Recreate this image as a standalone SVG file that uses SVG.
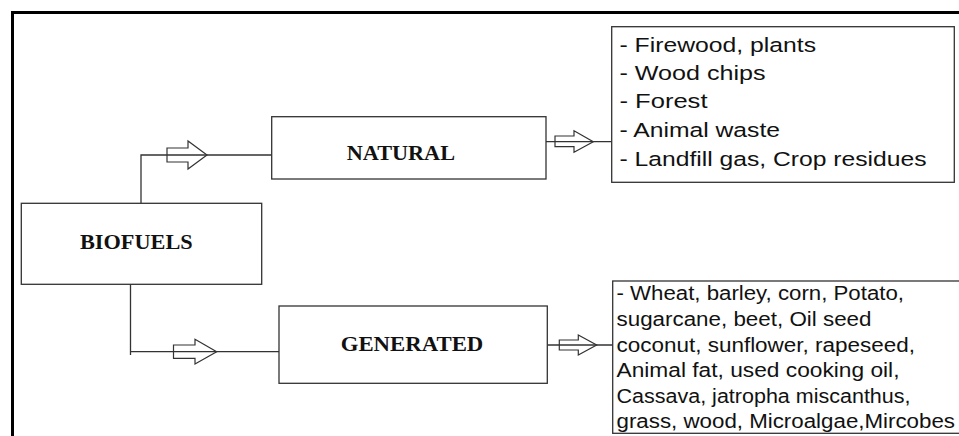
<svg xmlns="http://www.w3.org/2000/svg" width="959" height="436" viewBox="0 0 959 436">
<style>
.box{fill:#fff;stroke:#333;stroke-width:1.3}
.ln{fill:none;stroke:#333;stroke-width:1.3}
.arr{fill:none;stroke:#333;stroke-width:1.2;stroke-linejoin:miter}
.lbl{font-family:"Liberation Serif","Times New Roman",serif;font-weight:bold;font-size:22px;fill:#111}
.lst{font-family:"Liberation Sans",Arial,sans-serif;font-size:20.5px;fill:#111}
.lst2{font-family:"Liberation Sans",Arial,sans-serif;font-size:19.5px;fill:#111}
</style>
<rect x="0" y="0" width="959" height="436" fill="#fff"/>
<path d="M12.5,436 V12.5 H959" fill="none" stroke="#000" stroke-width="3"/>
<g id="connectors">
<path class="ln" d="M141,203.3 V155 H271.7"/>
<polygon class="arr" points="167,148 188,148 188,141 207,155 188,169 188,162 167,162"/>
<path class="ln" d="M130.5,284.3 V355 M130.5,351.7 H279"/>
<polygon class="arr" points="173.5,345 195,345 195,339.3 216.7,351.7 195,364 195,358.3 173.5,358.3"/>
<path class="ln" d="M546,141.7 H611.7"/>
<polygon class="arr" points="555,136 574,136 574,130.7 593.3,141.7 574,152.3 574,146.7 555,146.7"/>
<path class="ln" d="M547.3,345 H612.7"/>
<polygon class="arr" points="559.3,340 578.3,340 578.3,335 596.7,345 578.3,355 578.3,350 559.3,350"/>
</g>
<g id="biofuels">
<rect class="box" x="21.3" y="203.3" width="240.4" height="81"/>
<text class="lbl" x="80" y="249" textLength="112.7" lengthAdjust="spacingAndGlyphs">BIOFUELS</text>
</g>
<g id="natural">
<rect class="box" x="271.7" y="116.7" width="274.3" height="62.3"/>
<text class="lbl" x="346.7" y="160" textLength="108.3" lengthAdjust="spacingAndGlyphs">NATURAL</text>
</g>
<g id="generated">
<rect class="box" x="279" y="306" width="268.3" height="77.3"/>
<text class="lbl" x="340.7" y="350.7" textLength="142.6" lengthAdjust="spacingAndGlyphs">GENERATED</text>
</g>
<g id="natural-list">
<rect class="box" x="611.7" y="26.7" width="342.6" height="155.6"/>
<text class="lst" x="619.5" y="51.7" textLength="196.5" lengthAdjust="spacingAndGlyphs">- Firewood, plants</text>
<text class="lst" x="619.5" y="80" textLength="146" lengthAdjust="spacingAndGlyphs">- Wood chips</text>
<text class="lst" x="619.5" y="108.3" textLength="88" lengthAdjust="spacingAndGlyphs">- Forest</text>
<text class="lst" x="619.5" y="136.7" textLength="160.5" lengthAdjust="spacingAndGlyphs">- Animal waste</text>
<text class="lst" x="619.5" y="165.5" textLength="307" lengthAdjust="spacingAndGlyphs">- Landfill gas, Crop residues</text>
</g>
<g id="generated-list">
<rect class="box" x="612.7" y="281" width="350" height="152.3"/>
<text class="lst2" x="616.5" y="300" textLength="287.5" lengthAdjust="spacingAndGlyphs">- Wheat, barley, corn, Potato,</text>
<text class="lst2" x="616.5" y="325.5" textLength="255" lengthAdjust="spacingAndGlyphs">sugarcane, beet, Oil seed</text>
<text class="lst2" x="616.5" y="351.5" textLength="298.5" lengthAdjust="spacingAndGlyphs">coconut, sunflower, rapeseed,</text>
<text class="lst2" x="616.5" y="377.2" textLength="283" lengthAdjust="spacingAndGlyphs">Animal fat, used cooking oil,</text>
<text class="lst2" x="616.5" y="402.7" textLength="294" lengthAdjust="spacingAndGlyphs">Cassava, jatropha miscanthus,</text>
<text class="lst2" x="616.5" y="428.3" textLength="338.5" lengthAdjust="spacingAndGlyphs">grass, wood, Microalgae,Mircobes</text>
</g>
</svg>
